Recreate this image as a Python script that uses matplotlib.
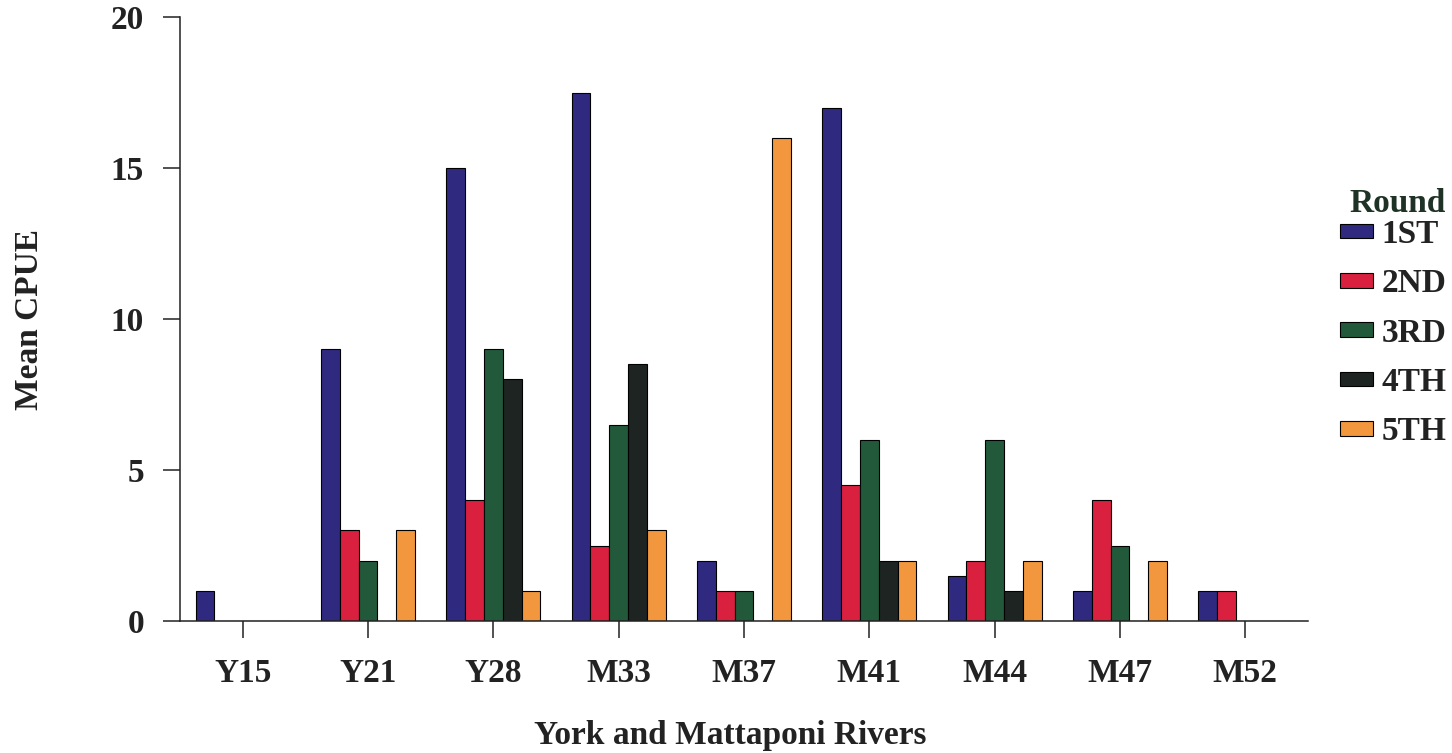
import numpy as np
import matplotlib
matplotlib.use("Agg")
import matplotlib.pyplot as plt

# Mean CPUE by station and sampling round
stations = ["Y15", "Y21", "Y28", "M33", "M37", "M41", "M44", "M47", "M52"]
rounds = ["1ST", "2ND", "3RD", "4TH", "5TH"]

round_1 = [1, 9, 15, 17.5, 2, 17, 1.5, 1, 1]
round_2 = [0, 3, 4, 2.5, 1, 4.5, 2, 4, 1]
round_3 = [0, 2, 9, 6.5, 1, 6, 6, 2.5, 0]
round_4 = [0, 0, 8, 8.5, 0, 2, 1, 0, 0]
round_5 = [0, 3, 1, 3, 16, 2, 2, 2, 0]

colors = ["#2f2a80", "#d9203f", "#22593a", "#1e2421", "#f2973d"]
text_color = "#222222"

plt.rcParams["font.family"] = ["Liberation Serif", "DejaVu Serif"]
plt.rcParams["font.weight"] = "bold"

fig = plt.figure(figsize=(14.52, 7.53), dpi=100)
ax = fig.add_axes([0.12397, 0.1753, 0.9008 - 0.12397, 0.9774 - 0.1753])

x = np.arange(len(stations))
width = 0.15
series = [round_1, round_2, round_3, round_4, round_5]
for i, (vals, name, c) in enumerate(zip(series, rounds, colors)):
    ax.bar(x + (i - 2) * width, vals, width, color=c, edgecolor="black",
           linewidth=0.8, label=name, zorder=2)

ax.set_xlim(-0.5, 8.5)
ax.set_ylim(0, 20)
ax.set_yticks([0, 5, 10, 15, 20])
ax.set_xticks(x)
ax.set_xticklabels(stations)

for s in ["top", "right"]:
    ax.spines[s].set_visible(False)
for s in ["left", "bottom"]:
    ax.spines[s].set_linewidth(1.1)
    ax.spines[s].set_color(text_color)

ax.tick_params(axis="both", direction="out", length=12, width=1.1,
               colors=text_color, labelsize=24)
ax.tick_params(axis="y", pad=14)
ax.tick_params(axis="x", pad=15)

ax.set_ylabel("Mean CPUE", fontsize=24, fontweight="bold", color=text_color, va="center")
ax.yaxis.set_label_coords(-0.133, 0.5)
ax.set_xlabel("York and Mattaponi Rivers", fontsize=24, fontweight="bold",
              color=text_color, va="center")
ax.xaxis.set_label_coords(0.4876, -0.19)

# legend title drawn separately so it sits close to the entries
fig.text(1398 / 1452, 1 - 203 / 753, "Round", fontsize=24, fontweight="bold",
         color="#1e3325", ha="center", va="center")
leg = fig.legend(loc="upper left", bbox_to_anchor=(1340 / 1452, 1 - 219 / 753),
                 frameon=False, fontsize=24,
                 handlelength=1.0, handleheight=0.3, handletextpad=0.25,
                 labelspacing=0.55, borderpad=0, borderaxespad=0)
for t in leg.get_texts():
    t.set_color(text_color)

fig.savefig("out.png", dpi=100)
